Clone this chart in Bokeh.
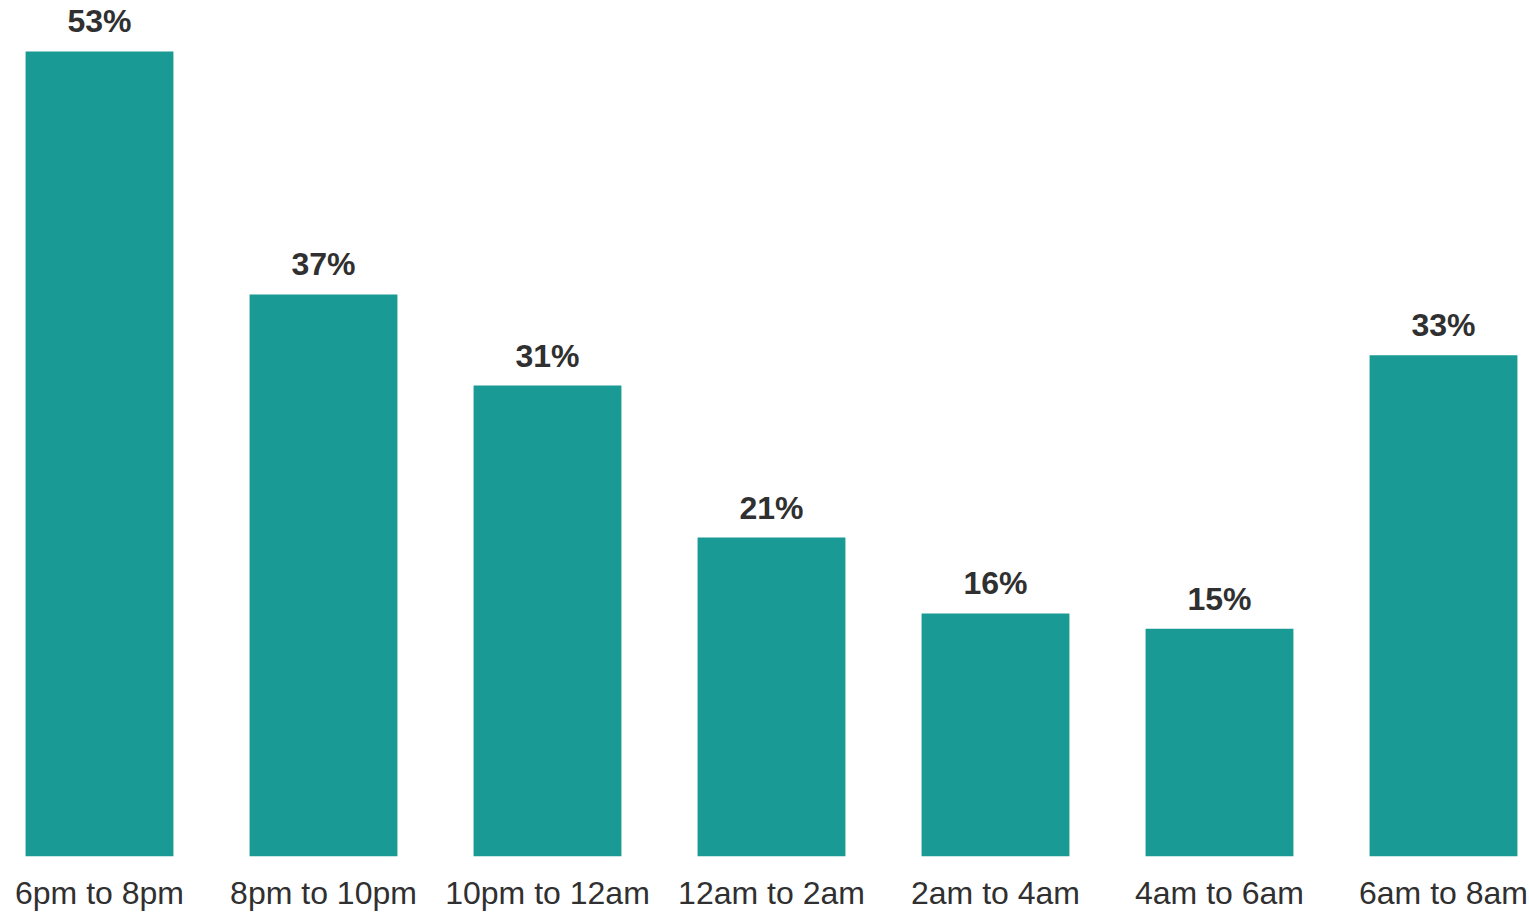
from bokeh.plotting import figure
from bokeh.models import ColumnDataSource, Range1d, FixedTicker
from bokeh.core.properties import value
from bokeh.embed import file_html
from bokeh.resources import INLINE

categories = ["6pm to 8pm", "8pm to 10pm", "10pm to 12am", "12am to 2am",
              "2am to 4am", "4am to 6am", "6am to 8am"]
shares = [53, 37, 31, 21, 16, 15, 33]

idx = list(range(len(categories)))
labels = [f"{v}%" for v in shares]
src = ColumnDataSource(dict(x=idx, y=shares, label=labels))

W, H = 1529, 914
p = figure(width=W, height=H, output_backend="svg", toolbar_location=None,
           x_range=Range1d(-99 / 224.0, -99 / 224.0 + W / 224.0),
           y_range=Range1d(0, 856 / 15.19),
           min_border_left=0, min_border_right=0, min_border_top=0,
           min_border_bottom=58)

p.vbar(x="x", top="y", bottom=0, width=0.66, source=src,
       fill_color="#199A94", line_color=None)

p.text(x="x", y="y", text="label", source=src, y_offset=-30,
       text_align="center", text_baseline="alphabetic",
       text_font=value("Liberation Sans"), text_font_style="bold",
       text_font_size="32px", text_color="#303030")

p.yaxis.visible = False
p.grid.visible = False
p.outline_line_color = None
p.background_fill_color = "white"
p.border_fill_color = "white"

ax = p.xaxis[0]
ax.ticker = FixedTicker(ticks=idx)
ax.major_label_overrides = {i: c for i, c in zip(idx, categories)}
ax.axis_line_color = None
ax.major_tick_line_color = None
ax.minor_tick_line_color = None
ax.major_tick_out = 0
ax.major_tick_in = 0
ax.major_label_standoff = 18
ax.major_label_text_font = "Liberation Sans"
ax.major_label_text_font_size = "32px"
ax.major_label_text_color = "#303030"

open("out.html", "w").write(file_html(p, INLINE))
